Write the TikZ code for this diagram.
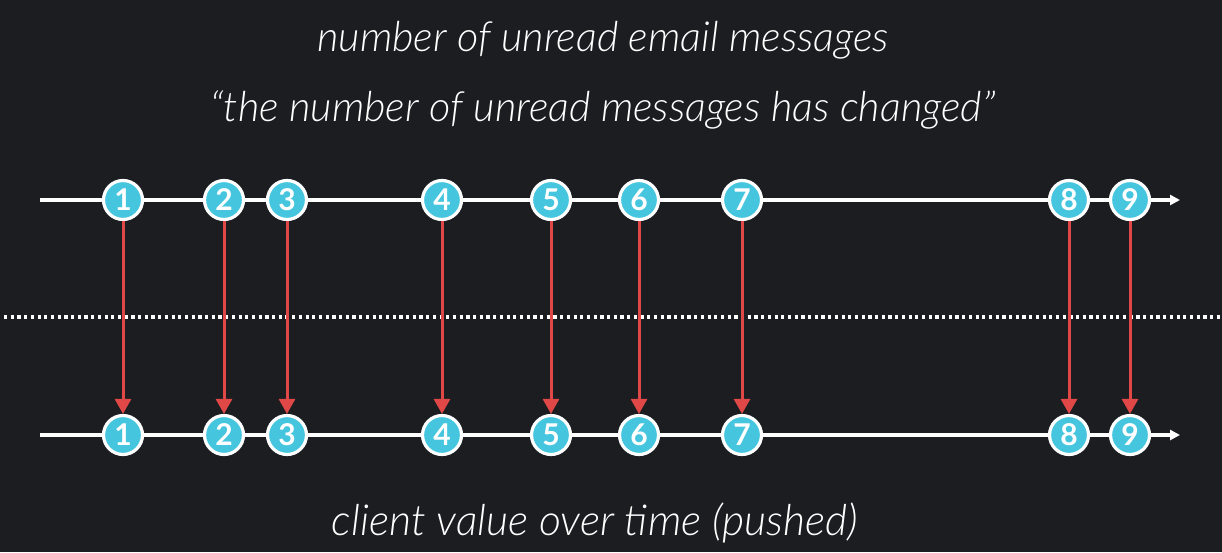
\documentclass[tikz,border=0pt]{standalone}
\usepackage{fontspec}
\setmainfont{Lato}
\newfontfamily\captionfont{Lato Light}[ItalicFont={Lato Light Italic}]
\usetikzlibrary{arrows.meta}
\definecolor{bg}{HTML}{1B1D21}
\definecolor{marble}{HTML}{45C6DE}
\definecolor{push}{HTML}{E04848}
\begin{document}
\begin{tikzpicture}[x=1pt,y=-1pt,
  marblenode/.style={circle,draw=white,line width=3.2pt,fill=marble,minimum size=39pt,inner sep=0pt,
    text=white,font=\fontsize{30}{30}\selectfont\bfseries},
  timeline/.style={white,line width=3.2pt,-{Triangle[length=10pt,width=10pt]}},
  pusharrow/.style={push,line width=3pt,-{Triangle[length=15pt,width=16pt]}},
  caption/.style={text=white,font=\fontsize{41.5}{41.5}\selectfont\captionfont\itshape}]
\fill[bg] (0,0) rectangle (1222,552);
\useasboundingbox (0,0) rectangle (1222,552);
% captions
\node[caption] (title) at (603,40) {number of unread email messages};
\node[caption] (event) at (603,110) {“the number of unread messages has changed”};
\node[caption,font=\fontsize{42.8}{42.8}\selectfont\captionfont\itshape] (client) at (595,523) {client value over time (pushed)};
% dotted divider
\coordinate (dl) at (4,317);
\coordinate (dr) at (1222,317);
\draw[white,line width=3.2pt,dash pattern=on 3.2pt off 3.5pt] (dl) -- (dr);
% time lines
\coordinate (ts) at (40,200);
\coordinate (te) at (1180,200);
\coordinate (bs) at (40,435);
\coordinate (be) at (1180,435);
\draw[timeline] (ts) -- (te);
\draw[timeline] (bs) -- (be);
% marbles and pushes
\foreach \i/\x in {1/123,2/224,3/287,4/442,5/551,6/639,7/742,8/1069,9/1130}{
  \node[marblenode] (t\i) at (\x,200) {\i};
  \node[marblenode] (b\i) at (\x,435) {\i};
  \draw[pusharrow] (t\i.south) -- (b\i.north);
}
\end{tikzpicture}
\end{document}
